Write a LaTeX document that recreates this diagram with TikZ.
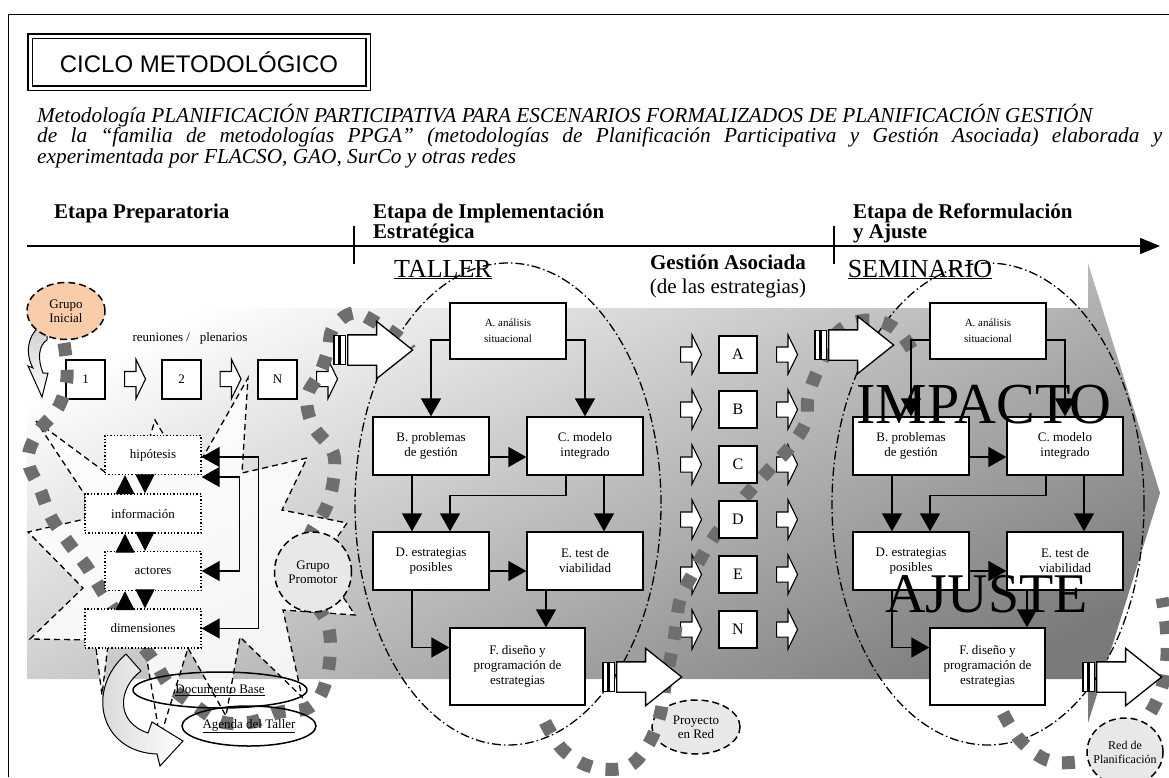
\documentclass[tikz,border=0pt]{standalone}
\usepackage{fontspec}
\setmainfont{Liberation Serif}
\setsansfont{Liberation Sans}
\usepackage{tikz}
\usetikzlibrary{arrows.meta,%
                shapes,positioning}

\definecolor{durazno}{RGB}{250,205,170}
\definecolor{nube}{RGB}{232,232,232}
\definecolor{espiral}{RGB}{110,110,110}

\tikzset{
  caja/.style={draw, fill=white, line width=1.3pt, minimum width=116, minimum height=58, inner sep=1pt, align=center, font=\fontsize{13}{15}\selectfont},
  punteada/.style={draw, dotted, line width=1.3pt, fill=white, minimum height=39, inner sep=1pt, font=\fontsize{13}{15}\selectfont},
  letra/.style={draw, fill=white, line width=1.3pt, minimum width=38, minimum height=37, inner sep=0, font=\fontsize{16}{18}\selectfont},
  num/.style={draw, fill=white, line width=1.3pt, minimum size=39, inner sep=0, font=\fontsize{13}{15}\selectfont},
  nube/.style={draw, dash pattern=on 7pt off 4pt, line width=1.5pt, ellipse, fill=nube, inner sep=-8pt, align=center, font=\fontsize{13}{14}\selectfont},
  flecha/.style={line width=1.3pt, -{Triangle[length=18pt,width=20pt]}},
  flechas/.style={line width=1.3pt, {Triangle[length=18pt,width=20pt]}-{Triangle[length=18pt,width=20pt]}},
  tri/.style={line width=1pt, -{Triangle[length=19pt,width=19pt]}},
  flechita/.style={single arrow, draw, fill=white, line width=1.1pt, minimum height=21, inner xsep=0pt, inner ysep=7pt, single arrow head extend=12, single arrow tip angle=128, anchor=tail},
  flechota/.style={single arrow, draw, fill=white, line width=1.3pt, minimum height=65, inner xsep=0pt, inner ysep=14.5pt, single arrow head extend=13.5, single arrow tip angle=77, anchor=tail},
  raya/.style={draw, fill=white, line width=1.1pt},
  ciclo/.style={draw, dash pattern=on 9pt off 3pt on 1.5pt off 3pt, line width=1.3pt, ellipse},
  espiral/.style={draw=espiral, line width=13pt, dash pattern=on 13pt off 14pt},
  estrella/.style={draw, dash pattern=on 6pt off 4pt, line width=1.3pt, fill=white, fill opacity=0.85},
  etapa/.style={anchor=north west, inner sep=0, align=left, font=\bfseries\fontsize{21}{20}\selectfont}
}

\begin{document}
\begin{tikzpicture}[x=1pt,y=-1pt]
\useasboundingbox (0,0) rectangle (1169,777);

% marco y banda
\draw[line width=1.4pt] (8.5,777) -- (8.5,14.5) -- (1169,14.5);
\shade[top color=white, bottom color=white!48!black, shading angle=27]
  (27,308) -- (1088,308) -- (1088,263) -- (1160,493) -- (1088,723) -- (1088,679) -- (27,679) -- cycle;

% estrella
\draw[estrella] (36,421) -- (105,472) -- (150,437) -- (155,420) -- (165,437) -- (203,457)
  -- (248,378) -- (242,473) -- (307,458) -- (282,510) -- (347,523) -- (320,562) -- (355,615)
  -- (283,610) -- (302,697) -- (240,637) -- (226,716) -- (188,648) -- (160,738) -- (145,648)
  -- (108,645) -- (102,695) -- (95,640) -- (30,639) -- (83,588) -- (28,532) -- (85,519)
  -- (85,495) -- cycle;

% titulo
\node[draw, double, double distance=3pt, line width=1.5pt, minimum width=338, minimum height=52,
  font=\sffamily\fontsize{24}{26}\selectfont] (titulo) at (199,62) {CICLO METODOLÓGICO};
\node[anchor=north west, inner sep=0, text width=1125, align=justify,
  font=\itshape\fontsize{21.3}{20.5}\selectfont] (subtitulo) at (37,104)
  {Metodología PLANIFICACIÓN PARTICIPATIVA PARA ESCENARIOS FORMALIZADOS DE PLANIFICACIÓN GESTIÓN\\
   de la “familia de metodologías PPGA” (metodologías de Planificación Participativa y Gestión Asociada) elaborada y\linebreak
   experimentada por FLACSO, GAO, SurCo y otras redes};

% etapas
\node[etapa] (prep) at (54,204) {Etapa Preparatoria};
\node[etapa] (impl) at (373,204) {Etapa de Implementación\\Estratégica};
\node[etapa] (reform) at (853,204) {Etapa de Reformulación\\y Ajuste};
\coordinate (t0) at (27,246);
\coordinate (t1) at (1160,246);
\draw[line width=1.5pt, -{Triangle[length=20pt,width=16pt]}] (t0) -- (t1);
\draw[line width=1.3pt] (354,226) -- (354,264);
\draw[line width=1.3pt] (834,226) -- (834,264);

\node[anchor=base, inner sep=0, font=\fontsize{26}{28}\selectfont] (taller) at (443,277) {\underline{TALLER}};
\node[anchor=base, inner sep=0, font=\fontsize{26}{28}\selectfont] (seminario) at (920,277) {\underline{SEMINARIO}};
\node[align=center, font=\fontsize{21}{24}\selectfont] (gestion) at (728,276) {\textbf{Gestión Asociada}\\(de las estrategias)};

% elipses del ciclo
\node[ciclo, minimum width=306, minimum height=482] (cTaller) at (508,504) {};
\node[ciclo, minimum width=312, minimum height=482] (cSeminario) at (988,504) {};

% flechas curvas
\draw[line width=1pt, top color=gray!40, bottom color=white]
  (47,322) .. controls (28,330) and (24,352) .. (33,368) -- (28,366) -- (42,397) -- (48,373)
  -- (43,373) .. controls (37,358) and (39,345) .. (47,340) -- cycle;
\draw[line width=1pt, left color=gray!35, right color=white]
  (126,654) -- (141,671) .. controls (118,688) and (115,722) .. (148,733) -- (152,722)
  -- (183,741) -- (160,766) -- (157,754) .. controls (100,752) and (85,690) .. (126,654) -- cycle;

% reuniones
\node[font=\fontsize{13}{15}\selectfont] (reuniones) at (190,338) {reuniones /\ \ \ plenarios};
\node[num] (r1) at (85.5,379.5) {1};
\node[num] (r2) at (181.5,379.5) {2};
\node[num] (rN) at (277.5,379.5) {N};
\node[flechita] (f1) at (124,379) {};
\node[flechita] (f2) at (219.5,379) {};
\node[flechita] (f3) at (316,379) {};

% gestion asociada
\node[flechita] (gA1) at (680,354.5) {};
\node[flechita] (gA2) at (776,354.5) {};
\node[flechita] (gB1) at (680,409.5) {};
\node[flechita] (gB2) at (776,409.5) {};
\node[flechita] (gC1) at (680,464.5) {};
\node[flechita] (gC2) at (776,464.5) {};
\node[flechita] (gD1) at (680,519.5) {};
\node[flechita] (gD2) at (776,519.5) {};
\node[flechita] (gE1) at (680,574.5) {};
\node[flechita] (gE2) at (776,574.5) {};
\node[flechita] (gN1) at (680,629.5) {};
\node[flechita] (gN2) at (776,629.5) {};

\node[nube, minimum width=88, minimum height=54] (proyecto) at (696,727) {Proyecto\\en Red};

% espiral
\draw[espiral] plot[smooth, tension=0.6] coordinates {(64,343) (67,378) (58,408) (38,432) (28,460)
  (40,489) (51,517) (68,542) (87,567) (104,594) (125,625) (152,658) (170,686) (197,707) (222,722)
  (252,722) (280,712) (308,708) (323,690) (330,657) (328,625) (314,600) (308,568) (310,535)
  (325,510) (333,483) (333,452) (313,426) (307,397) (320,373) (328,350) (333,328) (353,313)
  (377,323) (400,338) (410,350)};
\draw[espiral] plot[smooth, tension=0.6] coordinates {(545,722) (563,750) (592,767) (627,767)
  (648,745) (660,715) (666,680) (674,640) (680,600) (692,575) (710,543) (738,505) (767,472)
  (790,447) (806,422) (808,397) (818,370) (838,332) (868,320) (897,330) (918,360)};
\draw[espiral] plot[smooth, tension=0.6] coordinates {(1003,713) (1020,740) (1047,760) (1077,762)
  (1107,754) (1133,736) (1152,710) (1163,683) (1167,655) (1166,625) (1162,598)};

\node[nube, fill=durazno, minimum width=78, minimum height=57] (ginicial) at (66,311) {Grupo\\Inicial};
\node[nube, minimum width=77, minimum height=80] (gpromotor) at (313,572) {Grupo\\Promotor};
\node[nube, minimum width=76, minimum height=68, font=\fontsize{12}{14}\selectfont] (red) at (1125,752) {Red de\\Planificación};

% preparatoria
\node[punteada, minimum width=96] (hip) at (153,455) {hipótesis};
\node[punteada, minimum width=116] (info) at (143,513.5) {información};
\node[punteada, minimum width=96] (act) at (153,571) {actores};
\node[punteada, minimum width=116] (dim) at (143,628.5) {dimensiones};

\draw[tri] ([xshift=-18pt]info.north) -- ([xshift=-28pt]hip.south);
\draw[tri] ([xshift=-8pt]hip.south) -- ([xshift=2pt]info.north);
\draw[tri] ([xshift=-28pt]act.north) -- ([xshift=-18pt]info.south);
\draw[tri] ([xshift=2pt]info.south) -- ([xshift=-8pt]act.north);
\draw[tri] ([xshift=-18pt]dim.north) -- ([xshift=-28pt]act.south);
\draw[tri] ([xshift=-8pt]act.south) -- ([xshift=2pt]dim.north);
\draw[flechas] ([yshift=-2pt]hip.east) -- ++(57,0) |- (dim.east);
\draw[flechas] ([yshift=-22pt]hip.east) -- ++(38,0) |- (act.east);

\node[draw, ellipse, line width=1.5pt, inner sep=0, minimum width=174, minimum height=36,
  font=\fontsize{13}{15}\selectfont] (docbase) at (220,690) {\underline{Documento Base}};
\node[draw, ellipse, line width=1.5pt, inner sep=0, minimum width=134, minimum height=40,
  font=\fontsize{13}{15}\selectfont] (agenda) at (249,726) {\underline{Agenda del Taller}};

% cajas gestion asociada
\node[letra] (gA) at (738,354.5) {A};
\node[letra] (gB) at (738,409.5) {B};
\node[letra] (gC) at (738,464.5) {C};
\node[letra] (gD) at (738,519.5) {D};
\node[letra] (gE) at (738,574.5) {E};
\node[letra] (gN) at (738,629.5) {N};

% taller
\node[caja, font=\fontsize{11}{16}\selectfont, minimum height=56] (tA) at (508,331) {A. análisis\\situacional};
\node[caja] (tB) at (431,446) {B. problemas\\de gestión};
\node[caja] (tC) at (585,446) {C. modelo\\integrado};
\node[caja] (tD) at (431,561) {D. estrategias\\posibles};
\node[caja] (tE) at (585,561) {E. test de\\viabilidad};
\node[caja, minimum width=135, minimum height=77] (tF) at (517.5,666.5) {F. diseño y\\programación de\\estrategias};

\draw[flecha] ([yshift=-9pt]tA.west) -| (tB.north);
\draw[flecha] ([yshift=-9pt]tA.east) -| (tC.north);
\draw[flecha] ([yshift=-11pt]tB.east) -- ([yshift=-11pt]tC.west);
\draw[flecha] ([xshift=-19pt]tB.south) -- ([xshift=-19pt]tD.north);
\draw[flecha] ([xshift=-19pt]tC.south) -- ++(0,20) -| ([xshift=19pt]tD.north);
\draw[flecha] ([xshift=19pt]tC.south) -- ([xshift=19pt]tE.north);
\draw[flecha] ([yshift=-10pt]tD.east) -- ([yshift=-10pt]tE.west);
\coordinate (tEF) at ([xshift=-39pt]tE.south);
\draw[flecha] (tEF) -- (tEF |- tF.north);
\draw[flecha] ([xshift=-19pt]tD.south) |- ([yshift=19pt]tF.west);

% seminario
\node[caja, font=\fontsize{11}{16}\selectfont, minimum height=56] (sA) at (988,331) {A. análisis\\situacional};
\node[caja] (sB) at (911,446) {B. problemas\\de gestión};
\node[caja] (sC) at (1065,446) {C. modelo\\integrado};
\node[caja] (sD) at (911,561) {D. estrategias\\posibles};
\node[caja] (sE) at (1065,561) {E. test de\\viabilidad};
\node[caja, minimum width=115, minimum height=77] (sF) at (987.5,666.5) {F. diseño y\\programación de\\estrategias};

\draw[flecha] ([yshift=-9pt]sA.west) -| (sB.north);
\draw[flecha] ([yshift=-9pt]sA.east) -| (sC.north);
\draw[flecha] ([yshift=-11pt]sB.east) -- ([yshift=-11pt]sC.west);
\draw[flecha] ([xshift=-19pt]sB.south) -- ([xshift=-19pt]sD.north);
\draw[flecha] ([xshift=-19pt]sC.south) -- ++(0,20) -| ([xshift=19pt]sD.north);
\draw[flecha] ([xshift=19pt]sC.south) -- ([xshift=19pt]sE.north);
\draw[flecha] ([yshift=-10pt]sD.east) -- ([yshift=-10pt]sE.west);
\coordinate (sEF) at ([xshift=-38pt]sE.south);
\draw[flecha] (sEF) -- (sEF |- sF.north);
\draw[flecha] ([xshift=-19pt]sD.south) |- ([yshift=19pt]sF.west);

% flechas grandes
\node[flechota] (g1) at (347,350) {};
\draw[raya] ([xshift=-13pt,yshift=14.5pt]g1.tail) rectangle ++(5,29);
\draw[raya] ([xshift=-6.5pt,yshift=14.5pt]g1.tail) rectangle ++(5,29);
\node[flechota] (g2) at (616,677) {};
\draw[raya] ([xshift=-13pt,yshift=14.5pt]g2.tail) rectangle ++(5,29);
\draw[raya] ([xshift=-6.5pt,yshift=14.5pt]g2.tail) rectangle ++(5,29);
\node[flechota] (g3) at (828,345) {};
\draw[raya] ([xshift=-13pt,yshift=14.5pt]g3.tail) rectangle ++(5,29);
\draw[raya] ([xshift=-6.5pt,yshift=14.5pt]g3.tail) rectangle ++(5,29);
\node[flechota] (g4) at (1096,677) {};
\draw[raya] ([xshift=-13pt,yshift=14.5pt]g4.tail) rectangle ++(5,29);
\draw[raya] ([xshift=-6.5pt,yshift=14.5pt]g4.tail) rectangle ++(5,29);

% textos grandes
\node[anchor=base, inner sep=0, font=\fontsize{58}{60}\selectfont] (impacto) at (984,423) {IMPACTO};
\node[anchor=base, inner sep=0, font=\fontsize{56}{58}\selectfont] (ajuste) at (986.5,612) {AJUSTE};

\end{tikzpicture}
\end{document}
